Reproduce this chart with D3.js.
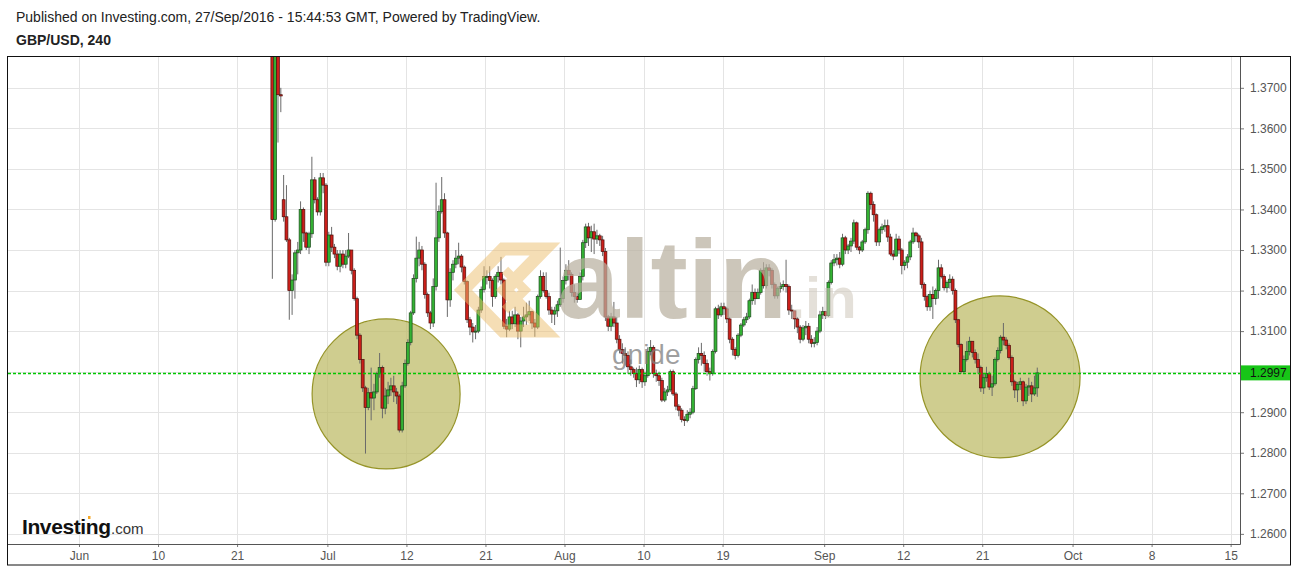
<!DOCTYPE html>
<html><head><meta charset="utf-8">
<script src="https://cdn.jsdelivr.net/npm/d3@7/dist/d3.min.js"></script>
<style>
body{margin:0;background:#fff;}
svg{display:block;font-family:Arial,"Liberation Sans",sans-serif;}
</style></head>
<body>
<svg id="chart" width="1297" height="568"></svg>
<script>
// ---- DATA (GBP/USD 4h, prices given in pips above 1.0000) ----
const startDay = 17;          // trading-day index (Jun 1 = 0) of first bar
const barsPerDay = 4;
const closes = [
 3375,3900,3683,3680, 3382,3325,3200,3226, 3293,3300,3400,3342, 3307,3340,3473,3424,
 3394,3478,3460,3270, 3337,3307,3290,3260, 3290,3265,3285,3300, 3250,3180,3090,3030,
 2960,2912,2948,2935, 2950,2995,3010,2910, 2940,2955,2965,2950, 2940,2856,2965,3020,
 3072,3145,3230,3280, 3300,3265,3190,3145, 3120,3210,3330,3395, 3424,3342,3177,3245,
 3265,3280,3285,3258, 3222,3128,3110,3098, 3100,3152,3203,3235, 3235,3225,3185,3235,
 3245,3226,3112,3105, 3135,3118,3140,3100, 3125,3135,3140,3148, 3120,3110,3185,3235,
 3200,3185,3152,3142, 3150,3165,3180,3225, 3250,3240,3195,3185, 3178,3235,3318,3357,
 3330,3345,3327,3335, 3325,3296,3135,3112, 3135,3120,3080,3055, 3045,3040,3012,3005,
 2995,2980,3005,2975, 2990,3050,3060,2995, 2990,2978,2930,2950, 2955,3000,2945,2915,
 2905,2882,2880,2895, 2900,2958,3030,3045, 3040,3020,3000,2995, 3050,3155,3140,3160,
 3155,3130,3080,3055, 3040,3090,3115,3128, 3135,3175,3195,3180, 3195,3250,3212,3256,
 3250,3215,3187,3205, 3210,3215,3210,3152, 3150,3130,3110,3080, 3108,3112,3080,3070,
 3072,3100,3140,3148, 3138,3220,3268,3276, 3280,3265,3330,3300, 3310,3322,3367,3307,
 3300,3320,3350,3440, 3412,3387,3320,3350, 3357,3360,3332,3290, 3285,3327,3300,3262,
 3270,3283,3320,3342, 3335,3320,3215,3185, 3160,3190,3180,3200, 3256,3235,3207,3220,
 3228,3200,3128,3067, 3000,3030,3050,3075, 3047,3030,3010,2960, 2985,2995,2962,2970,
 3030,3052,3085,3078, 3065,3035,2975,2955, 2968,2975,2928,2962, 2965,2945,2960,2997
];
const highs = [
 5000,4000,3950,3700, 3485,3460,3330,3240, 3300,3320,3420,3405, 3345,3345,3530,3480,
 3430,3490,3490,3465, 3345,3357,3315,3300, 3300,3300,3300,3342, 3275,3255,3185,3095,
 3030,2965,2960,3010, 2970,3000,3046,3015, 2960,2975,2985,2990, 2960,2945,2975,3030,
 3080,3150,3240,3333, 3320,3310,3270,3195, 3150,3230,3466,3410, 3480,3440,3345,3255,
 3275,3300,3318,3290, 3262,3225,3135,3120, 3115,3160,3210,3260, 3250,3260,3230,3240,
 3260,3283,3230,3130, 3150,3150,3160,3145, 3135,3160,3170,3175, 3150,3130,3190,3250,
 3245,3245,3195,3160, 3160,3175,3306,3235, 3265,3275,3245,3215, 3195,3245,3325,3365,
 3367,3360,3365,3350, 3340,3335,3305,3140, 3145,3172,3135,3090, 3070,3060,3050,3030,
 3010,3010,3015,3010, 3000,3060,3078,3065, 3005,3000,2985,2960, 2965,3005,3005,2950,
 2920,2910,2890,2905, 2910,2965,3035,3060, 3071,3050,3030,3010, 3055,3160,3165,3170,
 3170,3160,3135,3085, 3060,3095,3120,3135, 3145,3180,3215,3205, 3205,3255,3270,3265,
 3265,3255,3220,3210, 3220,3225,3276,3215, 3165,3150,3135,3115, 3115,3125,3120,3090,
 3085,3110,3150,3160, 3150,3225,3275,3290, 3290,3295,3340,3335, 3315,3330,3375,3370,
 3310,3325,3355,3445, 3444,3420,3390,3355, 3365,3375,3375,3340, 3300,3340,3335,3305,
 3275,3290,3325,3355, 3345,3340,3330,3220, 3190,3200,3210,3205, 3276,3265,3240,3225,
 3240,3235,3205,3130, 3070,3040,3075,3086, 3066,3055,3045,3015, 2995,3012,3000,2990,
 3035,3060,3090,3120, 3085,3070,3040,2980, 2975,2985,2978,2970, 2985,2975,2990,3010
];
const lows = [
 3229,3370,3565,3640, 3370,3320,3128,3140, 3180,3240,3290,3320, 3300,3290,3330,3415,
 3385,3385,3440,3260, 3260,3295,3280,3250, 3245,3255,3255,3280, 3240,3175,3080,3020,
 2950,2798,2905,2880, 2905,2945,2985,2885, 2895,2920,2940,2925, 2920,2850,2850,2960,
 3015,3065,3140,3220, 3260,3250,3180,3135, 3105,3110,3200,3320, 3390,3330,3135,3160,
 3225,3255,3265,3245, 3215,3120,3090,3072, 3080,3095,3145,3195, 3215,3205,3160,3180,
 3220,3215,3105,3085, 3100,3105,3110,3080, 3060,3110,3115,3125, 3105,3086,3105,3180,
 3195,3180,3140,3120, 3115,3135,3160,3170, 3215,3225,3185,3170, 3170,3180,3225,3305,
 3310,3295,3290,3315, 3310,3285,3125,3100, 3100,3110,3070,3045, 3020,3015,2995,2990,
 2985,2962,2970,2960, 2965,2985,3040,2985, 2975,2965,2925,2925, 2940,2950,2940,2905,
 2890,2875,2866,2875, 2885,2895,2955,3020, 3015,3000,2990,2978, 2990,3045,3130,3135,
 3140,3120,3070,3040, 3030,3035,3085,3110, 3120,3130,3165,3165, 3180,3190,3205,3205,
 3235,3205,3180,3180, 3195,3200,3195,3140, 3130,3105,3095,3070, 3075,3090,3070,3060,
 3060,3065,3095,3130, 3130,3135,3215,3260, 3262,3255,3260,3290, 3290,3295,3315,3300,
 3290,3295,3315,3340, 3400,3370,3310,3310, 3340,3345,3320,3285, 3275,3285,3290,3240,
 3250,3255,3275,3315, 3320,3305,3205,3175, 3150,3150,3130,3165, 3180,3230,3200,3195,
 3205,3190,3120,3060, 2995,2995,3025,3040, 3035,3020,2995,2950, 2945,2975,2955,2940,
 2965,3025,3045,3065, 3055,3030,2965,2935, 2925,2955,2915,2920, 2940,2925,2940,2938
];
const openOverrides = [[0, 4700], [4, 3424]];   // bar index, open (gap opens)
const priceTicks = [1.26,1.27,1.28,1.29,1.30,1.31,1.32,1.33,1.34,1.35,1.36,1.37];
const timeTickDays = [0,7,14,22,29,36,43,50,57,66,73,80,88,95,102];
const timeTickLabels = ["Jun","10","21","Jul","12","21","Aug","10","19","Sep","12","21","Oct","8","15"];
const lastPrice = 1.2997;
// highlighted zones: [centre trading-day, centre price]
const zones = [[27.2, 1.2945], [81.58, 1.2987]];
const titleText = "Published on Investing.com, 27/Sep/2016 - 15:44:53 GMT, Powered by TradingView.";
const symbolText = "GBP/USD, 240";

// ---- BUILD ----
const pip = v => 1 + v / 10000;
const ov = new Map(openOverrides);
const bars = closes.map((c, i) => {
  const o = ov.has(i) ? ov.get(i) : (i === 0 ? c : closes[i - 1]);
  const oo = pip(o), cc = pip(c);
  return {
    t: startDay + (i + 0.5) / barsPerDay,
    o: oo, c: cc,
    h: Math.max(pip(highs[i]), oo, cc),
    l: Math.min(pip(lows[i]), oo, cc)
  };
});

const svg = d3.select("#chart");
const L = 7, R = 1240, T = 57, B = 544, OR = 1290, OB = 565;

const x = d3.scaleLinear().domain([-6.377, 102.83]).range([L, R]);
const y = d3.scaleLinear().domain([1.2575, 1.3776]).range([B, T]);

// header texts
svg.append("text").attr("x", 16).attr("y", 22).attr("font-size", 14).attr("fill", "#222").text(titleText);
svg.append("text").attr("x", 16).attr("y", 45).attr("font-size", 14).attr("font-weight", "bold").attr("fill", "#222").text(symbolText);

// grid
const grid = svg.append("g").attr("shape-rendering", "crispEdges");
grid.selectAll(".hg").data(priceTicks).join("line")
  .attr("x1", L).attr("x2", R).attr("y1", d => Math.round(y(d)) + 0.5).attr("y2", d => Math.round(y(d)) + 0.5)
  .attr("stroke", "#e4e4e4");
grid.selectAll(".vg").data(timeTickDays).join("line")
  .attr("y1", T).attr("y2", B).attr("x1", d => Math.round(x(d)) + 0.5).attr("x2", d => Math.round(x(d)) + 0.5)
  .attr("stroke", "#e4e4e4");

// clip
svg.append("clipPath").attr("id", "plotclip").append("rect")
  .attr("x", L).attr("y", T).attr("width", R - L).attr("height", B - T);
const plot = svg.append("g").attr("clip-path", "url(#plotclip)");

// highlight circles (under candles)
const radii = [[74, 75], [80, 81]];
plot.selectAll(".circ").data(zones).join("ellipse")
  .attr("cx", d => x(d[0])).attr("cy", d => y(d[1]))
  .attr("rx", (d, i) => radii[i][0]).attr("ry", (d, i) => radii[i][1])
  .attr("fill", "rgb(188,186,100)").attr("fill-opacity", 0.72)
  .attr("stroke", "rgb(150,148,40)").attr("stroke-width", 1.2);

// candles
const bw = 2.9;
const cg = plot.append("g");
cg.selectAll(".wick").data(bars).join("line")
  .attr("x1", d => x(d.t)).attr("x2", d => x(d.t))
  .attr("y1", d => y(d.h)).attr("y2", d => y(d.l))
  .attr("stroke", "#6a6a6a").attr("stroke-width", 1);
cg.selectAll(".body").data(bars).join("rect")
  .attr("x", d => x(d.t) - bw / 2).attr("width", bw)
  .attr("y", d => y(Math.max(d.o, d.c)))
  .attr("height", d => Math.max(1, Math.abs(y(d.o) - y(d.c))))
  .attr("fill", d => d.c >= d.o ? "#33b233" : "#cc1f1a")
  .attr("stroke", d => d.c >= d.o ? "#1d4a1d" : "#4d0e0a")
  .attr("stroke-width", 0.7);

// watermark
const wm = plot.append("g");
const lg = wm.append("g").attr("opacity", 0.5);
lg.append("path")
  .attr("d", "M463,290 L503,249 L545,249 L505,290 L545,331 L503,331 Z")
  .attr("fill", "none").attr("stroke", "rgb(236,190,110)").attr("stroke-width", 13).attr("stroke-linejoin", "miter");
lg.append("path")
  .attr("d", "M505,270 L525,290 L505,310")
  .attr("fill", "none").attr("stroke", "rgb(236,190,110)").attr("stroke-width", 9);
wm.append("text").attr("x", 557).attr("y", 318).attr("font-size", 112).attr("font-weight", "bold")
  .attr("fill", "rgb(185,176,160)").attr("fill-opacity", 0.72).text("altin");
wm.append("text").attr("x", 789).attr("y", 318).attr("font-size", 58).attr("font-weight", "bold")
  .attr("fill", "rgb(205,198,186)").attr("fill-opacity", 0.55).text(".in");
wm.append("text").attr("x", 612).attr("y", 364).attr("font-size", 28)
  .attr("fill", "#7f7f7f").attr("fill-opacity", 0.75).text("gnide");

// last price line (drawn as a green dashed line across the plot)
const lpY = Math.round(y(lastPrice));
svg.append("path")
  .attr("d", `M${L + 1},${lpY + 0.5}H${R}`)
  .attr("fill", "none")
  .attr("stroke", "rgb(0,200,0)").attr("stroke-width", 1.3).attr("stroke-dasharray", "3,2");

// Investing.com logo
const logo = svg.append("g");
logo.append("text").attr("x", 22).attr("y", 534).attr("font-size", 21).attr("font-weight", "bold")
  .attr("letter-spacing", -0.4).attr("fill", "#111").text("Investing");
logo.append("text").attr("x", 111).attr("y", 534).attr("font-size", 15).attr("fill", "#333").text(".com");
logo.append("rect").attr("x", 88).attr("y", 516).attr("width", 2.5).attr("height", 3).attr("fill", "#f5a623");

// axes
const yAxis = d3.axisRight(y).tickValues(priceTicks).tickFormat(d3.format(".4f")).tickSize(4).tickPadding(6);
const ya = svg.append("g").attr("transform", `translate(${R},0)`).call(yAxis);
ya.select(".domain").remove();
ya.selectAll("line").attr("stroke", "#777");
ya.selectAll("text").attr("font-size", 12).attr("fill", "#555").attr("font-family", "Arial,'Liberation Sans',sans-serif");

const xAxis = d3.axisBottom(x).tickValues(timeTickDays).tickFormat((d, i) => timeTickLabels[i]).tickSize(3).tickPadding(4);
const xa = svg.append("g").attr("transform", `translate(0,${B})`).call(xAxis);
xa.select(".domain").remove();
xa.selectAll("line").attr("stroke", "#777");
xa.selectAll("text").attr("font-size", 12).attr("fill", "#555").attr("font-family", "Arial,'Liberation Sans',sans-serif");

// axis lines and frame
svg.append("line").attr("x1", R + 0.5).attr("x2", R + 0.5).attr("y1", T).attr("y2", B + 0.5).attr("stroke", "#555");
svg.append("line").attr("x1", L).attr("x2", R + 0.5).attr("y1", B + 0.5).attr("y2", B + 0.5).attr("stroke", "#555");
svg.append("rect").attr("x", L + 0.5).attr("y", T - 0.5).attr("width", OR - L).attr("height", OB - T + 0.5)
  .attr("fill", "none").attr("stroke", "#111");

// last price label
const ly = y(lastPrice);
svg.append("rect").attr("x", R + 1).attr("y", ly - 7.5).attr("width", OR - R - 1).attr("height", 15).attr("fill", "#17c517");
svg.append("text").attr("x", R + 10).attr("y", ly).attr("dy", "0.35em").attr("font-size", 12).attr("fill", "#111").text(d3.format(".4f")(lastPrice));
</script>
</body></html>
